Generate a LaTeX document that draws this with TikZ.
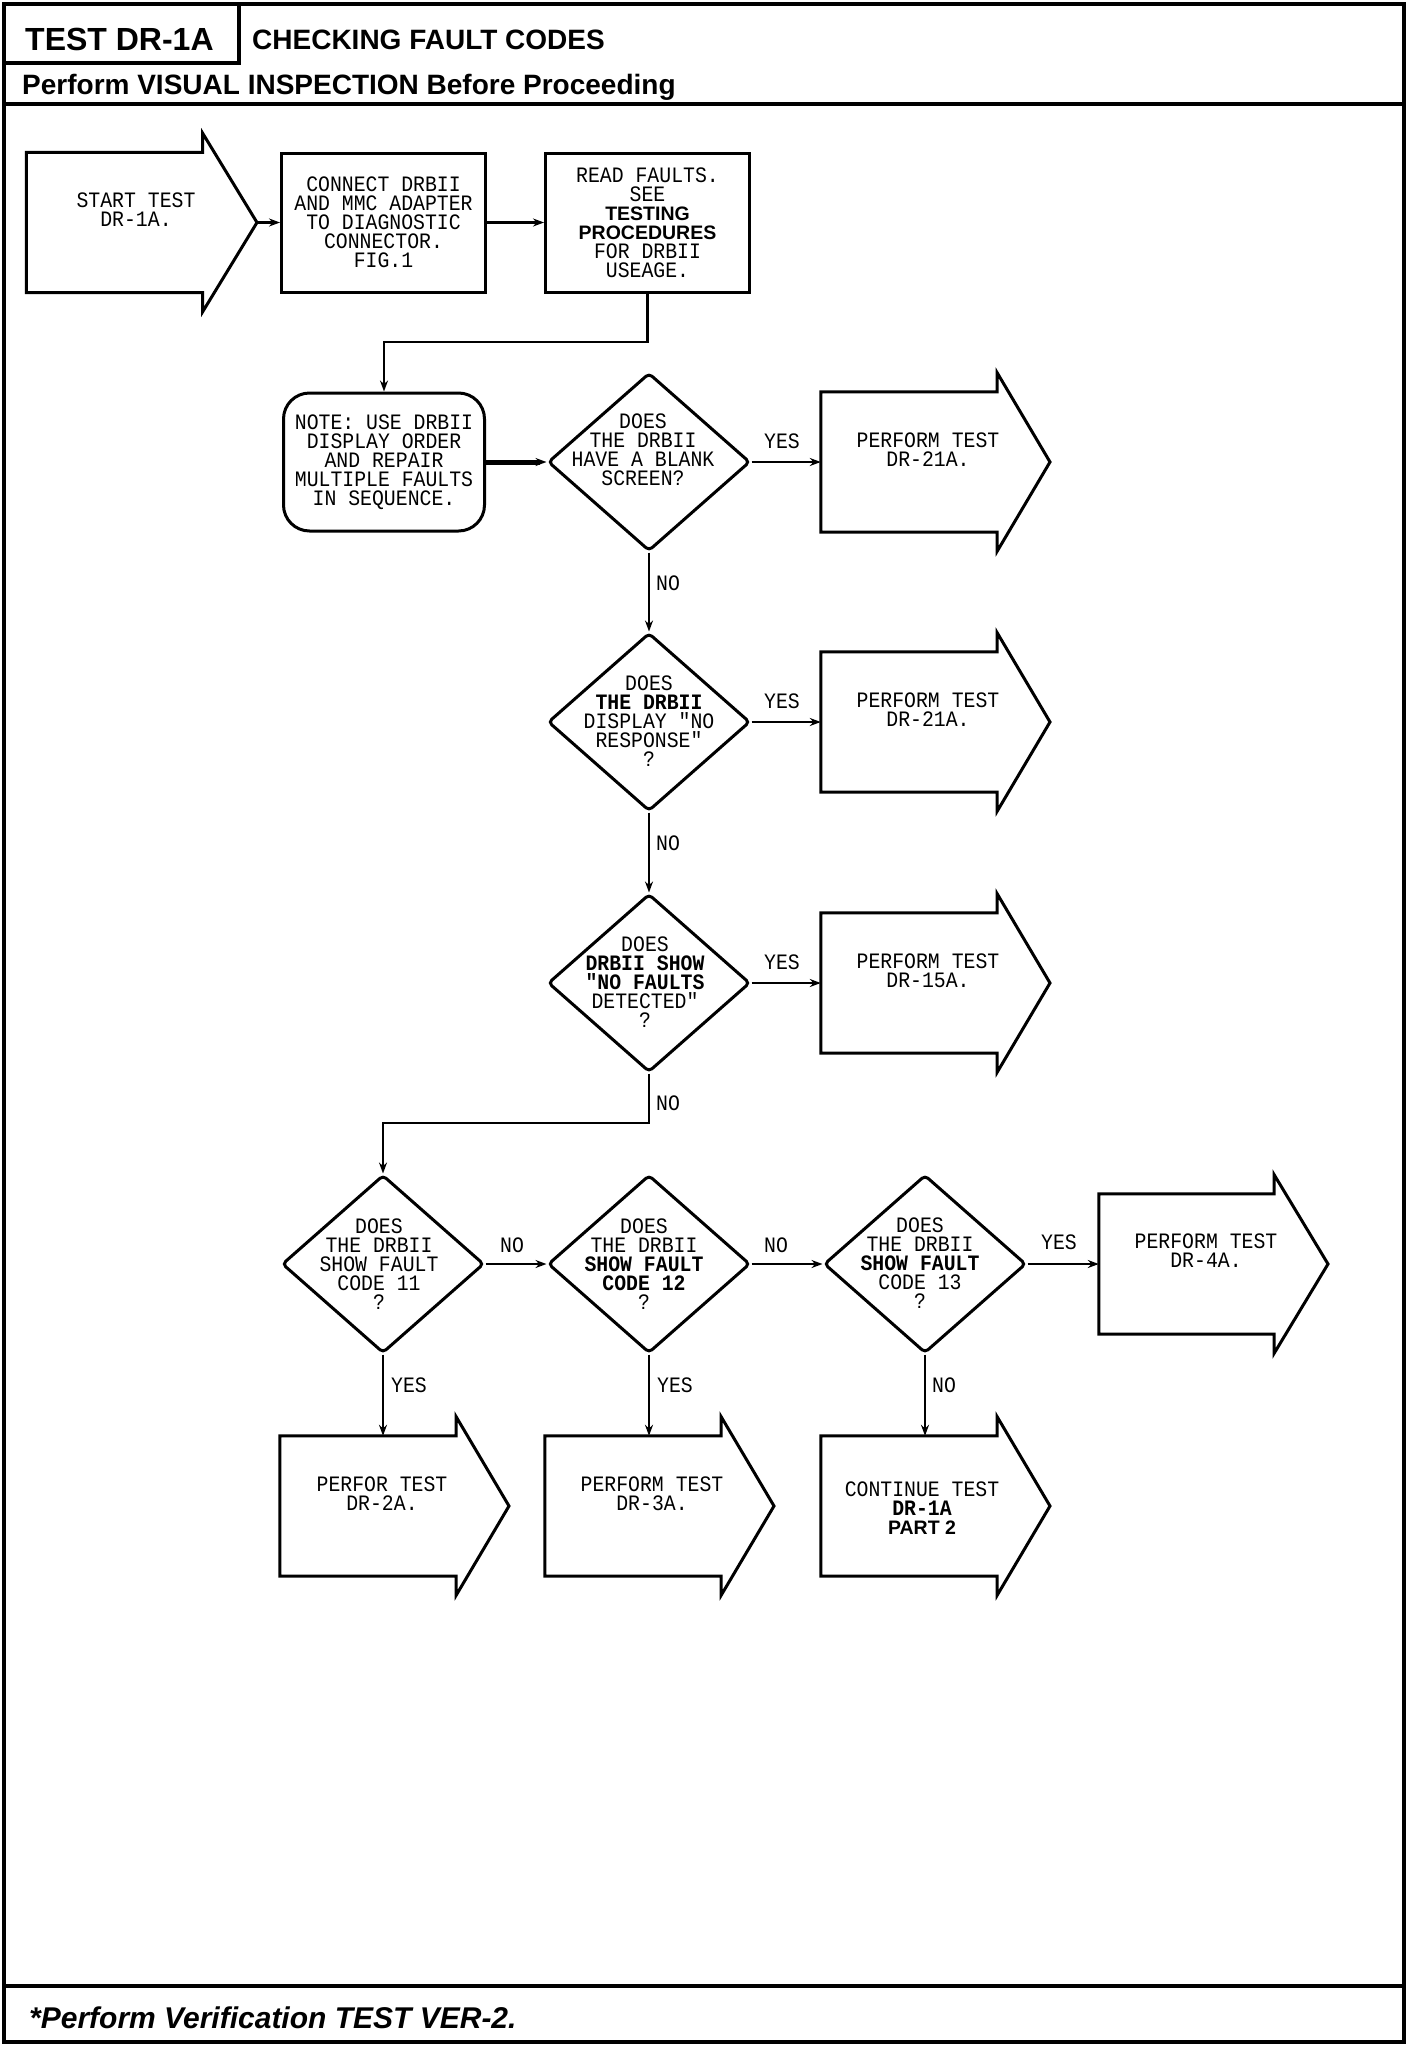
\documentclass[tikz,border=0pt]{standalone}
\usepackage{fontspec}
\setmainfont{Liberation Sans}
\newfontfamily\hpmono[FakeStretch=0.9]{Liberation Mono}
\usetikzlibrary{shapes.geometric,arrows.meta,calc}
\newcommand\myplotfont{\hpmono\fontsize{22}{19}\selectfont}
\newcommand\hbold{\rmfamily\bfseries\fontsize{19.5}{19}\selectfont}
\newcommand\fcarrow[2]{\draw[shp] (#1.north east) -- (#1.north west) -- (#1.south west) -- (#1.south east) -- ($(#1.south east)+(0,19)$) -- (#2) -- ($(#1.north east)+(0,-19)$) -- cycle;}
\begin{document}
\begin{tikzpicture}[x=1pt,y=-1pt,
  frame/.style={line width=3.5pt},
  shp/.style={draw,line width=3pt},
  body/.style={minimum width=176pt,minimum height=140pt,inner sep=0pt},
  box/.style={draw,line width=3pt,minimum width=204pt,minimum height=139pt,inner sep=0pt,align=center,font=\myplotfont},
  notebox/.style={box,rounded corners=26pt,minimum width=201pt,minimum height=138pt},
  dec/.style={diamond,draw,line width=3pt,minimum width=202pt,minimum height=178pt,inner sep=0pt,rounded corners=4pt},
  txt/.style={align=center,inner sep=0pt,font=\myplotfont},
  lbl/.style={inner sep=0pt,font=\myplotfont},
  conn/.style={line width=2.5pt,-{Stealth[length=11pt,width=8pt]}},
  head/.style={inner sep=0pt,anchor=base west}]
\useasboundingbox (0,0) rectangle (1408,2048);
\fill[white] (0,0) rectangle (1408,2048);
% frame
\draw[frame] (4,4) rectangle (1404,2042);
\draw[frame] (4,63) -- (239,63) -- (239,4);
\draw[frame] (4,104) -- (1404,104);
\draw[frame] (4,1986) -- (1404,1986);
\node[head,font=\bfseries\fontsize{32}{32}\selectfont] (title) at (25,50) {TEST DR-1A};
\node[head,font=\bfseries\fontsize{28}{28}\selectfont] (subject) at (252,49) {CHECKING FAULT CODES};
\node[head,font=\bfseries\fontsize{28}{28}\selectfont] (visual) at (22,94) {Perform VISUAL INSPECTION Before Proceeding};
\node[head,font=\bfseries\itshape\fontsize{30}{30}\selectfont] (verify) at (29,2028) {*Perform Verification TEST VER-2.};
% row 1
\node[body] (start) at (114.5,222.5) {};
\coordinate (starttip) at (257,222.5);
\fcarrow{start}{starttip}
\node[txt] (starttxt) at (136,210) {START TEST\\DR-1A.};
\node[box] (connect) at (383.5,222.5) {CONNECT DRBII\\AND MMC ADAPTER\\TO DIAGNOSTIC\\CONNECTOR.\\FIG.1};
\node[box] (read) at (647.5,222.5) {READ FAULTS.\\SEE\\{\hbold TESTING}\\{\hbold PROCEDURES}\\FOR DRBII\\USEAGE.};
\coordinate (bend1) at (384,342);
% note and first decision
\node[notebox] (note) at (384,462) {NOTE: USE DRBII\\DISPLAY ORDER\\AND REPAIR\\MULTIPLE FAULTS\\IN SEQUENCE.};
\node[dec] (d1) at (649,462) {};
\node[txt] (d1t) at (643,450) {DOES\\THE DRBII\\HAVE A BLANK\\SCREEN?};
\node[body] (p1) at (909,462) {};
\coordinate (p1tip) at (1050,462);
\fcarrow{p1}{p1tip}
\node[txt] (p1t) at (928,450) {PERFORM TEST\\DR-21A.};
% second decision
\node[dec] (d2) at (649,722) {};
\node[txt] (d2t) at (649,721) {DOES\\{\bfseries THE DRBII}\\DISPLAY "NO\\RESPONSE"\\?};
\node[body] (p2) at (909,722) {};
\coordinate (p2tip) at (1050,722);
\fcarrow{p2}{p2tip}
\node[txt] (p2t) at (928,710) {PERFORM TEST\\DR-21A.};
% third decision
\node[dec] (d3) at (649,983) {};
\node[txt] (d3t) at (645,982) {DOES\\{\bfseries DRBII SHOW}\\{\bfseries "NO FAULTS}\\DETECTED"\\?};
\node[body] (p3) at (909,983) {};
\coordinate (p3tip) at (1050,983);
\fcarrow{p3}{p3tip}
\node[txt] (p3t) at (928,971) {PERFORM TEST\\DR-15A.};
\coordinate (bend2) at (383,1123);
% fault code row
\node[dec] (d4) at (383,1264) {};
\node[txt] (d4t) at (379,1264) {DOES\\THE DRBII\\SHOW FAULT\\CODE 11\\?};
\node[dec] (d5) at (649,1264) {};
\node[txt] (d5t) at (644,1264) {DOES\\THE DRBII\\{\bfseries SHOW FAULT}\\{\bfseries CODE 12}\\?};
\node[dec] (d6) at (925,1264) {};
\node[txt] (d6t) at (920,1263) {DOES\\THE DRBII\\{\bfseries SHOW FAULT}\\CODE 13\\?};
\node[body,minimum width=175pt] (p4) at (1186.5,1264) {};
\coordinate (p4tip) at (1328,1264);
\fcarrow{p4}{p4tip}
\node[txt] (p4t) at (1206,1251) {PERFORM TEST\\DR-4A.};
% bottom row
\node[body] (p5) at (368,1506) {};
\coordinate (p5tip) at (509,1506);
\fcarrow{p5}{p5tip}
\node[txt] (p5t) at (382,1494) {PERFOR TEST\\DR-2A.};
\node[body] (p6) at (633,1506) {};
\coordinate (p6tip) at (774,1506);
\fcarrow{p6}{p6tip}
\node[txt] (p6t) at (652,1494) {PERFORM TEST\\DR-3A.};
\node[body] (p7) at (909,1506) {};
\coordinate (p7tip) at (1050,1506);
\fcarrow{p7}{p7tip}
\node[txt] (p7t) at (922,1508) {CONTINUE TEST\\{\bfseries DR-1A}\\{\hbold PART 2}};
% labels
\node[lbl] (y1) at (782,441) {YES};
\node[lbl] (y2) at (782,701) {YES};
\node[lbl] (y3) at (782,962) {YES};
\node[lbl,anchor=west] (n1) at (656,583) {NO};
\node[lbl,anchor=west] (n2) at (656,843) {NO};
\node[lbl,anchor=west] (n3) at (656,1103) {NO};
\node[lbl] (n4) at (512,1245) {NO};
\node[lbl] (n5) at (776,1245) {NO};
\node[lbl] (y4) at (1059,1242) {YES};
\node[lbl,anchor=west] (y5) at (391,1385) {YES};
\node[lbl,anchor=west] (y6) at (657,1385) {YES};
\node[lbl,anchor=west] (n6) at (932,1385) {NO};
% connectors
\draw[conn] (starttip) -- (connect.west);
\draw[conn] (connect.east) -- (read.west);
\draw[conn] (read.south) |- (bend1) -- (note.north);
\draw[conn,line width=5pt] (note.east) -- (d1.west);
\draw[conn] (d1.east) -- (p1.west);
\draw[conn] (d1.south) -- (d2.north);
\draw[conn] (d2.east) -- (p2.west);
\draw[conn] (d2.south) -- (d3.north);
\draw[conn] (d3.east) -- (p3.west);
\draw[conn] (d3.south) |- (bend2) -- (d4.north);
\draw[conn] (d4.east) -- (d5.west);
\draw[conn] (d5.east) -- (d6.west);
\draw[conn] (d6.east) -- (p4.west);
\draw[conn] (d4.south) -- (d4.south |- p5.north);
\draw[conn] (d5.south) -- (d5.south |- p6.north);
\draw[conn] (d6.south) -- (d6.south |- p7.north);
\end{tikzpicture}
\end{document}
